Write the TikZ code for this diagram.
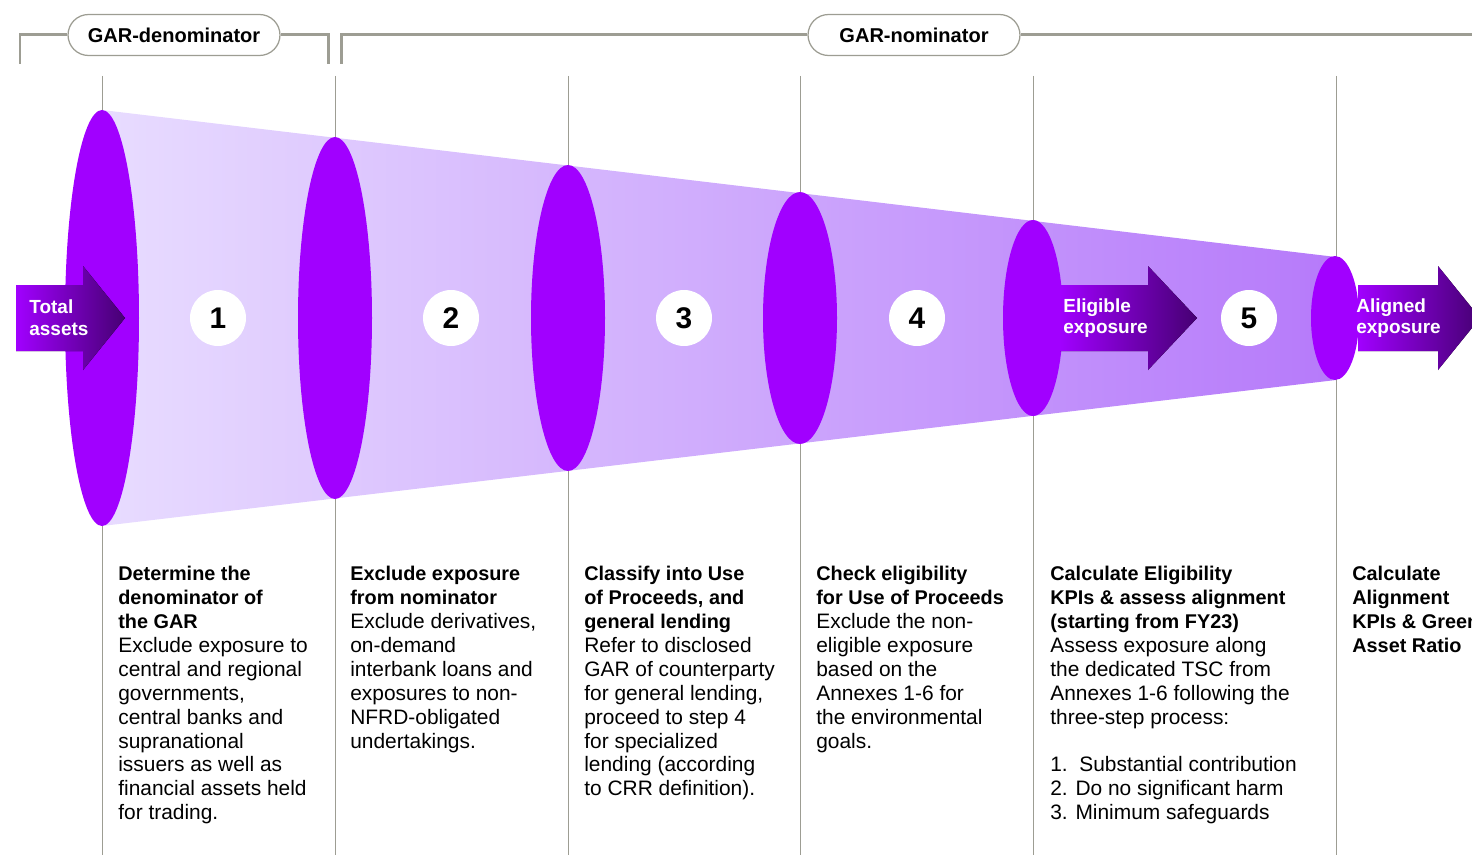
\documentclass[tikz,border=0pt]{standalone}
\usepackage{fontspec}
\setmainfont{Liberation Sans}
\usetikzlibrary{positioning, shapes}
\definecolor{accpurple}{HTML}{A100FF}
\definecolor{accdark}{HTML}{460073}
\definecolor{funlight}{HTML}{E8DCFF}
\definecolor{fundark}{HTML}{B67AFA}
\definecolor{rule}{HTML}{9D9D93}
\tikzset{
	every picture/.style={
		x=0.02cm,
		y=-0.02cm,
		font=\fontsize{11.9}{13.6}\selectfont,
	},
}
\tikzstyle{pill} = [
	draw=rule,
	line width=.25mm,
	fill=white,
	rounded corners=.41cm,
	minimum width=4.24cm,
	minimum height=.82cm,
	font=\fontsize{11.4}{13}\selectfont\bfseries
]
\tikzstyle{num} = [
	circle,
	fill=white,
	minimum size=1.12cm,
	inner sep=0mm,
	font=\fontsize{17}{17}\selectfont\bfseries
]
\tikzstyle{arrowtext} = [
	text=white,
	align=left,
	inner sep=0mm,
	anchor=west,
	font=\fontsize{10.8}{12.4}\selectfont\bfseries
]
\tikzstyle{stepdesc} = [align=left, anchor=north west, inner sep=0mm]
\tikzstyle{bracket} = [draw=rule, line width=.6mm]
% block arrow: shaft from #1 to #2, head from #2 to the tip #3
\newcommand{\flowarrow}[3]{
	\fill[left color=accpurple, right color=accdark]
		(#1,285) -- (#2,285) -- (#2,266) -- (#3,318) -- (#2,370) -- (#2,351) -- (#1,351) -- cycle;
}
\newcommand{\hd}[1]{{\fontsize{11.3}{13.6}\selectfont\bfseries #1}}

\begin{document}
\begin{tikzpicture}
\useasboundingbox (0,0) rectangle (1472,855);
\clip (0,0) rectangle (1472,855);

% step separators
\foreach \x in {102, 335, 568, 800, 1033, 1336}
	\draw[rule, line width=.2mm] (\x,76) -- (\x,855);

% funnel
\shade[left color=funlight, right color=fundark]
	(102,110) -- (1336,257) -- (1336,380) -- (102,526) -- cycle;
\foreach \x/\rx/\ry in {102/37/208, 335/37/181, 568/37/153, 800/37/126, 1033/30/98, 1335/24/62}
	\fill[accpurple] (\x,318) ellipse [x radius=\rx, y radius=\ry];

% arrows in and out
\flowarrow{16}{83}{125}
\flowarrow{1060}{1148}{1197}
\flowarrow{1358}{1438}{1480}
\node[arrowtext] (total) at (29,318) {Total\\assets};
\node[arrowtext] (eligible) at (1063,318) {Eligible\\exposure};
\node[arrowtext] (aligned) at (1356,318) {Aligned\\exposure};

\foreach \n/\x in {1/218, 2/451, 3/684, 4/917, 5/1249}
	\node[num] (n\n) at (\x,318) {\n};

% brackets on top
\node[pill] (denom) at (174,35) {GAR-denominator};
\node[pill] (nom) at (914,35) {GAR-nominator};
\coordinate (nomend) at (1480,35);
\draw[bracket] (20,64) |- (denom.west);
\draw[bracket] (denom.east) -| (328,64);
\draw[bracket] (341,64) |- (nom.west);
\draw[bracket] (nom.east) -- (nomend);

% step texts
\node[stepdesc] (d1) at (118,566) {
	\hd{Determine the}\\
	\hd{denominator of}\\
	\hd{the GAR}\\
	Exclude exposure to\\
	central and regional\\
	governments,\\
	central banks and\\
	supranational\\
	issuers as well as\\
	financial assets held\\
	for trading.
};
\node[stepdesc] (d2) at (350,566) {
	\hd{Exclude exposure}\\
	\hd{from nominator}\\
	Exclude derivatives,\\
	on-demand\\
	interbank loans and\\
	exposures to non-\\
	NFRD-obligated\\
	undertakings.
};
\node[stepdesc] (d3) at (584,566) {
	\hd{Classify into Use}\\
	\hd{of Proceeds, and}\\
	\hd{general lending}\\
	Refer to disclosed\\
	GAR of counterparty\\
	for general lending,\\
	proceed to step 4\\
	for specialized\\
	lending (according\\
	to CRR definition).
};
\node[stepdesc] (d4) at (816,566) {
	\hd{Check eligibility}\\
	\hd{for Use of Proceeds}\\
	Exclude the non-\\
	eligible exposure\\
	based on the\\
	Annexes 1-6 for\\
	the environmental\\
	goals.
};
\node[stepdesc] (d5) at (1050,566) {
	\hd{Calculate Eligibility}\\
	\hd{KPIs \& assess alignment}\\
	\hd{(starting from FY23)}\\
	Assess exposure along\\
	the dedicated TSC from\\
	Annexes 1-6 following the\\
	three-step process:\\[13.6pt]
	1.\ \ Substantial contribution\\
	2. Do no significant harm\\
	3. Minimum safeguards
};
\node[stepdesc] (d6) at (1352,566) {
	\hd{Calculate}\\
	\hd{Alignment}\\
	\hd{KPIs \& Green}\\
	\hd{Asset Ratio}
};
\end{tikzpicture}
\end{document}
